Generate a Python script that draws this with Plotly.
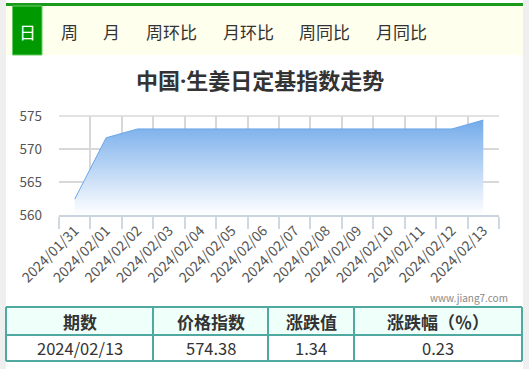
import plotly.graph_objects as go

W, H = 529, 369

# ---- data ----
dates = ["2024/01/31", "2024/02/01", "2024/02/02", "2024/02/03", "2024/02/04",
         "2024/02/05", "2024/02/06", "2024/02/07", "2024/02/08", "2024/02/09",
         "2024/02/10", "2024/02/11", "2024/02/12", "2024/02/13"]
index_values = [562.4, 571.7, 573.04, 573.04, 573.04, 573.04, 573.04, 573.04,
                573.04, 573.04, 573.04, 573.04, 573.04, 574.38]
y_ticks = [560, 565, 570, 575]
tabs = ["日", "周", "月", "周环比", "月环比", "周同比", "月同比"]
table_header = ["期数", "价格指数", "涨跌值", "涨跌幅（％）"]
table_row = ["2024/02/13", "574.38", "1.34", "0.23"]
title_text = "中国·生姜日定基指数走势"
watermark = "www.jiang7.com"

FONT = "Noto Sans CJK SC"
TITLE_FONT = "Open Sans, Noto Sans CJK SC"


def px(x):
    return x / W


def py(y):
    return 1 - y / H


fig = go.Figure()
fig.add_trace(go.Scatter(
    x=dates, y=index_values, mode="lines",
    line=dict(color="#6aa6e8", width=1),
    fill="tozeroy",
    fillgradient=dict(type="vertical", start=560, stop=574.5,
                      colorscale=[[0, "rgba(255,255,255,1)"],
                                  [1, "rgb(114,170,234)"]]),
    hoverinfo="skip", showlegend=False,
))

shapes = []
annotations = []

# page side strips
shapes.append(dict(type="rect", xref="paper", yref="paper", x0=0, x1=px(6), y0=0, y1=1,
                   fillcolor="#efefef", line=dict(width=0), layer="below"))
shapes.append(dict(type="rect", xref="paper", yref="paper", x0=px(523), x1=1, y0=0, y1=1,
                   fillcolor="#efefef", line=dict(width=0), layer="below"))
# tab bar
shapes.append(dict(type="rect", xref="paper", yref="paper", x0=px(6), x1=px(523), y0=py(55), y1=py(6),
                   fillcolor="#ffffee", line=dict(width=0), layer="below"))
shapes.append(dict(type="rect", xref="paper", yref="paper", x0=px(6), x1=px(523), y0=py(6), y1=py(3),
                   fillcolor="#1a9a1a", line=dict(width=0), layer="below"))
shapes.append(dict(type="rect", xref="paper", yref="paper", x0=px(12.5), x1=px(42), y0=py(55), y1=py(6),
                   fillcolor="#009900", line=dict(width=1, color="#66cc66"), layer="below"))

tab_x = [27, 69, 111, 171, 248, 324, 401]
for i, (t, xx) in enumerate(zip(tabs, tab_x)):
    annotations.append(dict(xref="paper", yref="paper", x=px(xx), y=py(31), text=t,
                            showarrow=False, xanchor="center", yanchor="middle",
                            font=dict(family=FONT, size=17,
                                      color="#ffffff" if i == 0 else "#333333")))

# title
annotations.append(dict(xref="paper", yref="paper", x=px(260), y=py(80), text="<b>" + title_text + "</b>",
                        showarrow=False, xanchor="center", yanchor="middle",
                        font=dict(family=TITLE_FONT, size=22, color="#333333")))

# watermark
annotations.append(dict(xref="paper", yref="paper", x=px(510), y=py(297), text=watermark,
                        showarrow=False, xanchor="right", yanchor="middle",
                        font=dict(family=FONT, size=10, color="#888888")))

# table
col_x = [6, 153, 268, 354, 522]
row_y = [307, 335, 361]
border = "#4fa9a1"
shapes.append(dict(type="rect", xref="paper", yref="paper", x0=px(col_x[0]), x1=px(col_x[-1]),
                   y0=py(row_y[1]), y1=py(row_y[0]), fillcolor="#effffa", line=dict(width=0), layer="below"))
for yy in row_y:
    shapes.append(dict(type="line", xref="paper", yref="paper", x0=px(col_x[0]), x1=px(col_x[-1]),
                       y0=py(yy), y1=py(yy), line=dict(color=border, width=2)))
for xx in col_x:
    shapes.append(dict(type="line", xref="paper", yref="paper", x0=px(xx), x1=px(xx),
                       y0=py(row_y[-1]), y1=py(row_y[0]), line=dict(color=border, width=2)))
for i in range(4):
    cx = (col_x[i] + col_x[i + 1]) / 2
    annotations.append(dict(xref="paper", yref="paper", x=px(cx), y=py(321), text="<b>" + table_header[i] + "</b>",
                            showarrow=False, xanchor="center", yanchor="middle",
                            font=dict(family=FONT, size=17, color="#333333")))
    annotations.append(dict(xref="paper", yref="paper", x=px(cx), y=py(348), text=table_row[i],
                            showarrow=False, xanchor="center", yanchor="middle",
                            font=dict(family=FONT, size=16.5, color="#333333")))

# plot frame top line
shapes.append(dict(type="line", xref="paper", yref="paper", x0=px(59), x1=px(499), y0=py(116), y1=py(116),
                   line=dict(color="#d8d8d8", width=1.5)))

fig.update_layout(
    width=W, height=H, margin=dict(l=0, r=0, t=0, b=0),
    paper_bgcolor="white", plot_bgcolor="white",
    shapes=shapes, annotations=annotations,
    xaxis=dict(domain=[px(59), px(499)], type="category", range=[-0.5, 13.5],
               tickson="boundaries", ticks="outside", ticklen=12, tickcolor="#d0d8e0", tickwidth=1.5,
               showgrid=True, gridcolor="#d8d8d8", gridwidth=1.5,
               showline=True, linecolor="#c8d4e0", linewidth=2,
               tickangle=-45, tickfont=dict(family=FONT, size=14, color="#555555"),
               automargin=False, fixedrange=True),
    yaxis=dict(domain=[py(215), py(116)], range=[560, 575], tickvals=y_ticks,
               showgrid=True, gridcolor="#d8d8d8", gridwidth=1.5, zeroline=False,
               ticks="", ticklabelstandoff=16,
               tickfont=dict(family=FONT, size=13.5, color="#555555"),
               automargin=False, fixedrange=True),
)

fig.write_html("out.html")
